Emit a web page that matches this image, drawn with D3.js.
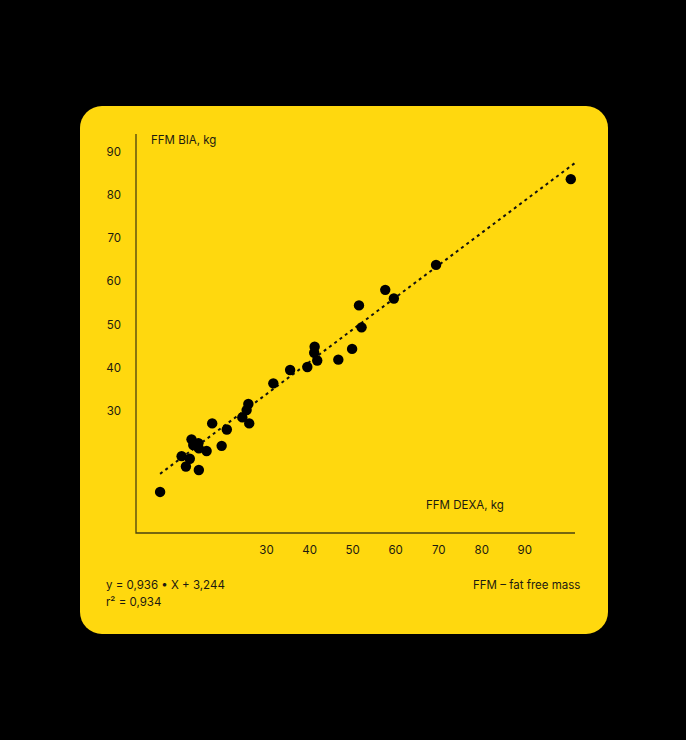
<!DOCTYPE html>
<html>
<head>
<meta charset="utf-8">
<script src="https://cdn.jsdelivr.net/npm/d3@7"></script>
<style>
  html, body { margin: 0; padding: 0; background: #000; }
  svg { display: block; }
  text { font-family: Inter, "Noto Sans", sans-serif; fill: #1c1a10; }
</style>
</head>
<body>
<svg width="686" height="740"></svg>
<script>
// FFM DEXA (x) vs FFM BIA (y), kg
const dexa = [5.4, 11.4, 10.4, 12.3, 14.4, 12.7, 13.1, 14.3, 14.4, 16.2, 19.7,
              17.5, 20.9, 24.5, 26.1, 25.5, 25.9, 31.7, 35.6, 39.6, 41.9, 41.2,
              41.3, 46.8, 50.0, 52.2, 51.6, 57.7, 59.7, 69.5, 100.8];
const bia  = [11.1, 17.0, 19.4, 18.8, 16.2, 23.3, 22.0, 22.4, 21.2, 20.6, 21.8,
              27.0, 25.6, 28.4, 27.0, 30.1, 31.5, 36.3, 39.4, 40.1, 41.6, 43.4,
              44.8, 41.8, 44.3, 49.3, 54.4, 58.0, 56.0, 63.8, 83.7];
const xTicks = [30, 40, 50, 60, 70, 80, 90];
const yTicks = [30, 40, 50, 60, 70, 80, 90];
const trendX = [5.4, 101.7];
const trendY = [15.3, 87.4];

const svg = d3.select('svg');

// yellow card
svg.append('rect')
  .attr('x', 80).attr('y', 106)
  .attr('width', 528).attr('height', 528)
  .attr('rx', 22)
  .attr('fill', '#FFD80E');

const frame = {left: 136, right: 575, top: 134, bottom: 533};

const xscale = d3.scaleLinear().domain([30, 90]).range([266, 524.3]);
const yscale = d3.scaleLinear().domain([30, 90]).range([410.5, 152]);

// axis lines
svg.append('path')
  .attr('d', `M${frame.left},${frame.top}V${frame.bottom}H${frame.right}`)
  .attr('fill', 'none')
  .attr('stroke', '#4a4210')
  .attr('stroke-width', 1.3);

const xAxisG = svg.append('g')
  .attr('transform', `translate(0,${frame.bottom})`)
  .call(d3.axisBottom(xscale).tickValues(xTicks).tickSize(0).tickPadding(13));
xAxisG.select('.domain').remove();

const yAxisG = svg.append('g')
  .attr('transform', `translate(${frame.left},0)`)
  .call(d3.axisLeft(yscale).tickValues(yTicks).tickSize(0).tickPadding(15));
yAxisG.select('.domain').remove();

svg.selectAll('.tick text')
  .attr('font-family', 'Inter, "Noto Sans", sans-serif')
  .attr('font-size', 11.5)
  .attr('fill', '#1c1a10');

// trend line
const pts = trendX.map((d, i) => [d, trendY[i]]);
svg.append('path')
  .attr('d', d3.line().x(d => xscale(d[0])).y(d => yscale(d[1]))(pts))
  .attr('fill', 'none')
  .attr('stroke', '#111')
  .attr('stroke-width', 2)
  .attr('stroke-dasharray', '3,3.6');

// points
svg.append('g').selectAll('circle')
  .data(dexa.map((d, i) => ({x: d, y: bia[i]})))
  .join('circle')
    .attr('cx', d => xscale(d.x))
    .attr('cy', d => yscale(d.y))
    .attr('r', 5.2)
    .attr('fill', '#000');

// titles
svg.append('text')
  .attr('x', 151).attr('y', 143.5)
  .attr('font-size', 11.5)
  .text('FFM BIA, kg');

svg.append('text')
  .attr('x', 426).attr('y', 509)
  .attr('font-size', 11.5)
  .text('FFM DEXA, kg');

svg.append('text')
  .attr('x', 106).attr('y', 589)
  .attr('font-size', 11.5)
  .text('y = 0,936 • X + 3,244');

svg.append('text')
  .attr('x', 106).attr('y', 605.5)
  .attr('font-size', 11.5)
  .text('r² = 0,934');

svg.append('text')
  .attr('x', 473).attr('y', 589)
  .attr('font-size', 11.5)
  .text('FFM – fat free mass');
</script>
</body>
</html>
